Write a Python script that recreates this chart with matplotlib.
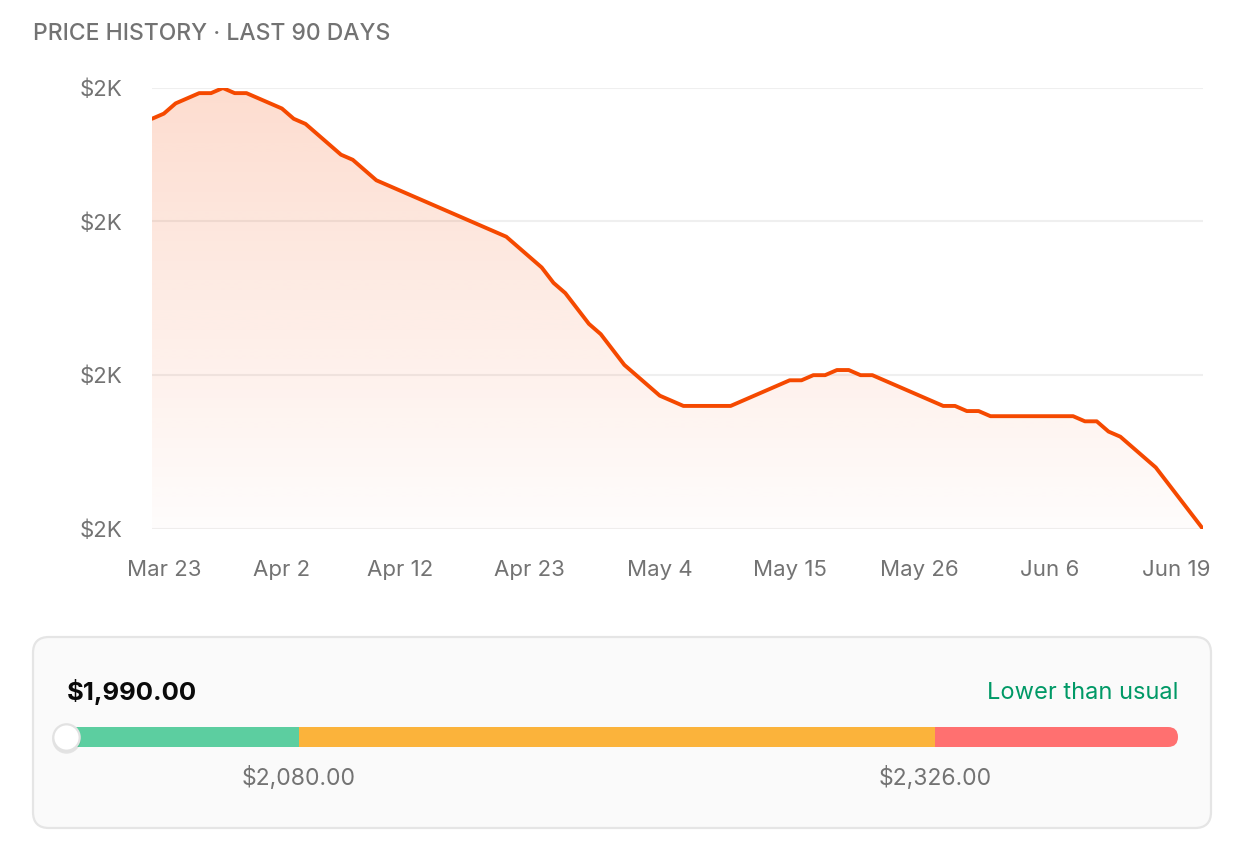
import numpy as np
import matplotlib
matplotlib.use("Agg")
import matplotlib.pyplot as plt
import matplotlib.transforms as mtransforms
from matplotlib.patches import FancyBboxPatch

plt.rcParams['font.family'] = ['Inter', 'DejaVu Sans']

# daily prices, Mar 22 -> Jun 19 (90 days)
prices = [2390, 2395, 2405, 2410, 2415, 2415, 2420, 2415, 2415, 2410,
          2405, 2400, 2390, 2385, 2375, 2365, 2355, 2350, 2340, 2330,
          2325, 2320, 2315, 2310, 2305, 2300, 2295, 2290, 2285, 2280,
          2275, 2265, 2255, 2245, 2230, 2220, 2205, 2190, 2180, 2165,
          2150, 2140, 2130, 2120, 2115, 2110, 2110, 2110, 2110, 2110,
          2115, 2120, 2125, 2130, 2135, 2135, 2140, 2140, 2145, 2145,
          2140, 2140, 2135, 2130, 2125, 2120, 2115, 2110, 2110, 2105,
          2105, 2100, 2100, 2100, 2100, 2100, 2100, 2100, 2100, 2095,
          2095, 2085, 2080, 2070, 2060, 2050, 2035, 2020, 2005, 1990]
days = np.arange(len(prices))

xtick_days = [1, 11, 21, 32, 43, 54, 65, 76, 89]
xtick_labels = ['Mar 23', 'Apr 2', 'Apr 12', 'Apr 23', 'May 4',
                'May 15', 'May 26', 'Jun 6', 'Jun 19']
ytick_vals = [1990, 2140, 2290, 2420]
ytick_labels = ['$2K', '$2K', '$2K', '$2K']

current_price = 1990
gauge_min, gauge_max = 1990, 2420
low_thr, high_thr = 2080, 2326
status_text = 'Lower than usual'

LINE = '#f54900'
GRAY = '#737373'
W, H = 1240, 866

fig = plt.figure(figsize=(W / 100, H / 100), dpi=100)
fig.patch.set_facecolor('white')

# background layer in pixel coordinates (title + card)
bg = fig.add_axes([0, 0, 1, 1], zorder=0)
bg.set_xlim(0, W)
bg.set_ylim(H, 0)
bg.axis('off')
bg.text(33, 34, 'PRICE HISTORY · LAST 90 DAYS', fontsize=16.5, color=GRAY,
        fontweight='medium', va='center', ha='left')
card = FancyBboxPatch((33, 637), 1178, 191, boxstyle='round,pad=0,rounding_size=16',
                      facecolor='#fafafa', edgecolor='#e5e5e5', linewidth=1.6)
bg.add_patch(card)
bg.text(67, 692, f'${current_price:,.2f}', fontsize=18.5, fontweight='bold',
        color='#0a0a0a', va='center', ha='left')
bg.text(1178, 693, status_text, fontsize=17, color='#009966',
        va='center', ha='right')

# main price chart
ax = fig.add_axes([152 / W, 1 - 529 / H, (1203 - 152) / W, (529 - 88) / H], zorder=1)
ax.set_facecolor('none')
ax.set_xlim(days[0], days[-1])
ax.set_ylim(gauge_min, gauge_max)
for s in ax.spines.values():
    s.set_visible(False)
ax.set_yticks(ytick_vals)
ax.set_yticklabels(ytick_labels)
ax.set_xticks(xtick_days)
ax.set_xticklabels(xtick_labels)
ax.tick_params(length=0, labelsize=16, labelcolor=GRAY)
ax.tick_params(axis='x', pad=22.5)
ax.tick_params(axis='y', pad=21)
ax.grid(axis='y', color='#efefef', linewidth=1.5, zorder=0)
ax.set_axisbelow(True)

# keep the last date label inside the frame
lab = ax.get_xticklabels()[-1]
lab.set_transform(lab.get_transform() +
                  mtransforms.ScaledTranslation(-0.27, 0, fig.dpi_scale_trans))

poly = ax.fill_between(days, prices, gauge_min, color='none', linewidth=0)
grad = np.zeros((256, 1, 4))
rgb = np.array([245, 73, 0]) / 255
grad[:, 0, :3] = rgb
grad[:, 0, 3] = np.linspace(0.19, 0.015, 256)
img = ax.imshow(grad, extent=[days[0], days[-1], gauge_min, gauge_max],
                aspect='auto', origin='upper', zorder=1, interpolation='bilinear')
img.set_clip_path(poly.get_paths()[0], transform=ax.transData)
ax.plot(days, prices, color=LINE, linewidth=2.8, solid_joinstyle='round',
        solid_capstyle='round', zorder=3)

# gauge bar
gx = fig.add_axes([66 / W, 1 - 747 / H, (1178 - 66) / W, 20 / H], zorder=2)
gx.set_xlim(gauge_min, gauge_max)
gx.set_ylim(0, 1)
gx.axis('off')
clip = FancyBboxPatch((0, 0), 1, 1, boxstyle='round,pad=0,rounding_size=0.009',
                      mutation_aspect=55.6, transform=gx.transAxes,
                      facecolor='none', edgecolor='none')
gx.add_patch(clip)
seg_starts = [gauge_min, low_thr, high_thr]
seg_ends = [low_thr, high_thr, gauge_max]
seg_colors = ['#5ccea0', '#fbb33b', '#ff7070']
for a, b, c in zip(seg_starts, seg_ends, seg_colors):
    bar = gx.barh(0.5, b - a, left=a, height=1, color=c, linewidth=0)
    for r in bar:
        r.set_clip_path(clip)
for v in [low_thr, high_thr]:
    gx.text(v, -1.55, f'${v:,.2f}', transform=gx.get_xaxis_transform(),
            ha='center', va='center', fontsize=16.5, color=GRAY)
# knob with soft shadow
gx.plot([current_price], [0.38], 'o', markersize=20.5, color='#000000', alpha=0.09,
        markeredgewidth=0, clip_on=False, zorder=4)
gx.plot([current_price], [0.5], 'o', markersize=19, markerfacecolor='white',
        markeredgecolor='#e2e2e2', markeredgewidth=1.6, clip_on=False, zorder=5)

fig.savefig('out.png', dpi=100, facecolor='white')
